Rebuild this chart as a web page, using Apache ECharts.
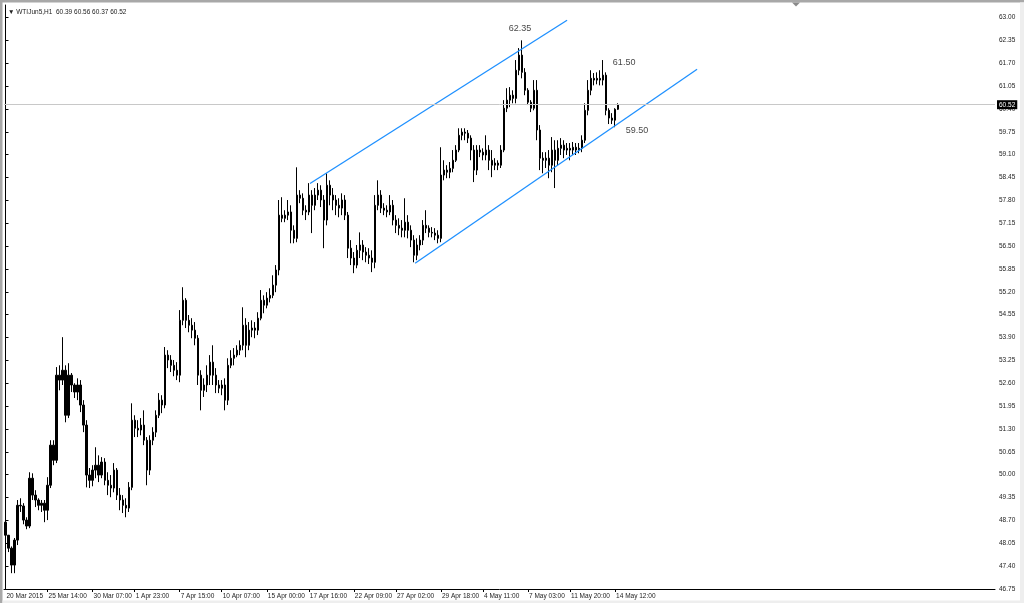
<!DOCTYPE html>
<html>
<head>
<meta charset="utf-8">
<script src="https://cdn.jsdelivr.net/npm/echarts@6/dist/echarts.min.js"></script>
<style>
html,body{margin:0;padding:0;background:#fff;}
#c{width:1024px;height:603px;}
</style>
</head>
<body>
<div id="c"></div>
<script>
// ---- data (H1 candles, each slot ~3 hours) ----
const symbolName = 'WTIJun5,H1';
const O = [48.65,48.28,47.91,47.43,48.14,49.13,49.11,48.71,48.54,49.90,
 49.42,49.28,49.13,49.19,48.99,49.70,50.84,50.41,52.83,52.69,
 52.97,51.69,52.83,52.55,52.35,52.55,51.98,51.41,49.99,49.84,
 50.13,50.27,49.99,50.36,49.84,49.70,49.62,50.13,49.42,49.28,
 49.13,49.05,49.64,51.55,51.32,51.27,51.41,50.98,50.13,50.98,
 51.21,51.69,52.12,51.98,53.40,53.26,53.11,52.97,52.83,54.39,
 54.96,54.39,54.25,54.11,53.88,52.83,52.40,52.55,52.83,53.20,
 52.83,52.55,52.46,52.55,52.12,53.11,53.31,53.40,53.54,53.68,
 54.25,53.68,54.11,54.17,54.11,54.45,54.96,54.82,55.02,55.10,
 55.39,55.82,57.38,57.29,57.38,57.47,56.95,56.72,57.95,57.86,
 57.52,57.47,57.95,57.66,57.95,58.09,57.81,57.24,58.23,57.95,
 57.81,57.66,57.58,57.81,57.38,56.44,56.16,55.96,56.38,56.53,
 56.33,56.24,56.16,56.04,57.66,57.95,57.58,57.52,57.47,57.66,
 57.24,57.09,57.01,56.95,57.18,56.95,56.67,56.24,56.53,56.67,
 57.09,57.01,56.89,56.87,56.81,56.72,58.52,58.66,58.60,58.71,
 58.94,59.23,59.65,59.74,59.71,59.57,59.23,58.66,59.23,59.17,
 59.09,59.23,58.94,58.80,58.86,58.80,59.23,60.42,60.65,60.79,
 60.70,61.50,61.93,61.44,60.93,60.59,60.42,60.93,59.80,59.00,
 58.94,59.00,58.80,59.23,58.94,59.28,59.37,59.23,59.28,59.23,
 59.31,59.23,59.28,59.51,60.36,60.93,61.27,61.22,61.27,61.22,
 61.36,60.36,60.14,60.08,60.39];
const H = [48.71,48.20,47.96,48.20,49.28,49.33,49.19,48.79,50.07,50.04,
 49.56,49.33,49.28,49.28,49.93,50.98,50.98,53.06,53.11,53.91,
 53.11,53.17,52.89,52.60,52.74,52.69,52.12,51.55,50.19,50.27,
 50.78,50.55,50.50,50.47,50.07,49.99,50.33,50.19,49.62,49.42,
 49.33,49.79,52.03,51.69,51.55,51.61,51.83,51.07,51.12,51.35,
 51.83,52.32,52.26,53.63,53.54,53.40,53.26,53.20,54.68,55.33,
 55.02,54.54,54.45,54.34,53.97,52.97,52.74,53.11,53.40,53.68,
 53.03,52.69,52.69,52.74,53.31,53.54,53.60,53.68,53.82,54.76,
 54.45,54.34,54.39,54.34,54.62,55.25,55.10,55.19,55.30,55.67,
 55.96,57.81,57.89,57.52,57.81,57.66,57.09,58.74,58.09,58.00,
 57.66,58.29,58.09,58.15,58.29,58.23,57.95,58.57,58.37,58.15,
 57.95,57.86,58.00,57.95,57.47,56.67,56.33,56.53,56.89,56.67,
 56.47,56.44,56.38,57.95,58.37,58.09,57.72,57.66,57.95,57.81,
 57.38,57.29,57.24,57.86,57.38,57.09,56.81,56.72,56.81,57.24,
 57.52,57.09,57.04,57.01,56.95,59.31,58.94,58.80,58.89,59.23,
 59.37,59.85,59.85,59.85,59.80,59.65,59.37,59.37,59.37,59.28,
 59.65,59.37,59.23,59.00,58.94,59.37,60.65,60.99,61.02,60.93,
 61.79,62.13,62.35,61.56,60.99,60.65,61.22,61.22,59.94,59.17,
 59.17,59.23,59.60,59.51,59.51,59.57,59.51,59.43,59.43,59.46,
 59.43,59.43,59.65,60.56,61.22,61.50,61.42,61.44,61.50,61.79,
 61.44,60.42,60.28,60.42,60.56];
const L = [48.28,47.80,47.20,47.20,48.00,48.94,48.59,48.45,48.48,49.28,
 49.08,48.99,48.94,48.65,48.71,49.62,50.27,50.33,52.40,52.55,
 51.49,51.61,52.35,52.18,52.12,51.78,51.21,49.64,49.62,49.67,
 49.90,49.79,49.90,49.70,49.42,49.36,49.50,49.28,48.99,48.91,
 48.79,48.94,49.56,51.07,51.07,51.12,50.84,49.70,49.99,50.84,
 51.07,51.61,51.75,51.89,53.03,52.92,52.80,52.69,52.63,54.25,
 54.17,54.05,53.88,53.68,52.55,51.83,52.21,52.35,52.55,52.55,
 52.32,52.32,52.26,51.83,51.98,53.03,53.11,53.34,53.40,53.54,
 53.34,53.54,53.91,53.88,53.97,54.39,54.59,54.73,54.90,55.02,
 55.19,55.67,57.18,57.18,57.24,56.58,56.58,56.61,57.72,57.38,
 57.24,57.38,56.87,57.52,57.81,57.61,56.44,57.09,57.66,57.52,
 57.38,57.32,57.38,57.24,56.16,55.96,55.73,55.87,56.16,56.10,
 56.04,55.99,55.76,55.87,57.52,57.44,57.38,57.32,57.38,57.09,
 56.87,56.81,56.75,56.75,56.72,56.47,56.04,56.10,56.38,56.53,
 56.87,56.75,56.75,56.67,56.58,56.61,58.37,58.43,58.43,58.60,
 58.89,59.17,59.51,59.51,59.43,58.94,58.32,58.52,59.03,58.94,
 58.94,58.66,58.46,58.66,58.66,58.72,59.17,60.31,60.45,60.56,
 60.56,61.36,61.27,60.79,60.51,60.31,60.36,59.51,58.66,58.57,
 58.72,58.43,58.60,58.15,58.80,59.09,59.00,59.09,58.94,59.09,
 59.09,59.14,59.17,59.43,60.22,60.79,61.07,61.10,61.07,61.07,
 60.22,59.97,59.97,59.88,60.37];
const C = [48.28,47.91,47.43,48.14,49.13,49.11,48.71,48.54,49.90,49.42,
 49.28,49.13,49.19,48.99,49.70,50.84,50.41,52.83,52.69,52.97,
 51.69,52.83,52.55,52.35,52.55,51.98,51.41,49.99,49.84,50.13,
 50.27,49.99,50.36,49.84,49.70,49.62,50.13,49.42,49.28,49.13,
 49.05,49.64,51.55,51.32,51.27,51.41,50.98,50.13,50.98,51.21,
 51.69,52.12,51.98,53.40,53.26,53.11,52.97,52.83,54.39,54.96,
 54.39,54.25,54.11,53.88,52.83,52.40,52.55,52.83,53.20,52.83,
 52.55,52.46,52.55,52.12,53.11,53.31,53.40,53.54,53.68,54.25,
 53.68,54.11,54.17,54.11,54.45,54.96,54.82,55.02,55.10,55.39,
 55.82,57.38,57.29,57.38,57.47,56.95,56.72,57.95,57.86,57.52,
 57.47,57.95,57.66,57.95,58.09,57.81,57.24,58.23,57.95,57.81,
 57.66,57.58,57.81,57.38,56.44,56.16,55.96,56.38,56.53,56.33,
 56.24,56.16,56.04,57.66,57.95,57.58,57.52,57.47,57.66,57.24,
 57.09,57.01,56.95,57.18,56.95,56.67,56.24,56.53,56.67,57.09,
 57.01,56.89,56.87,56.81,56.72,58.52,58.66,58.60,58.71,58.94,
 59.23,59.65,59.74,59.71,59.57,59.23,58.66,59.23,59.17,59.09,
 59.23,58.94,58.80,58.86,58.80,59.23,60.42,60.65,60.79,60.70,
 61.50,61.93,61.44,60.93,60.59,60.42,60.93,59.80,59.00,58.94,
 59.00,58.80,59.23,58.94,59.28,59.37,59.23,59.28,59.23,59.31,
 59.23,59.28,59.51,60.36,60.93,61.27,61.22,61.27,61.22,61.36,
 60.36,60.14,60.08,60.39,60.52];

const totalSlots = 330;   // chart width incl. empty right-hand shift area
const tickLabels = ['20 Mar 2015','25 Mar 14:00','30 Mar 07:00','1 Apr 23:00','7 Apr 15:00',
 '10 Apr 07:00','15 Apr 00:00','17 Apr 16:00','22 Apr 09:00','27 Apr 02:00',
 '29 Apr 18:00','4 May 11:00','7 May 03:00','11 May 20:00','14 May 12:00'];
const tickBars = [0,14,29,43,58,72,87,101,116,130,145,159,174,188,203];

const yMin = 46.75, yMax = 63.355, yStep = 0.65;

// channel lines: [bar index, price]
const upperChannel = [[101.4, 58.28],[187.0, 62.92]];
const lowerChannel = [[136.4, 56.01],[230.3, 61.53]];

// annotations
const annText  = ['62.35','61.50','59.50'];
const annBar   = [171.3, 206.0, 210.3];
const annPrice = [62.69, 61.71, 59.80];

// ---- build ----
const categories = [];
for (let i = 0; i < totalSlots; i++) categories.push('');
tickBars.forEach((b, k) => { categories[b] = tickLabels[k]; });
const tickSet = new Set(tickBars);

const candles = O.map((o, i) => [o, C[i], L[i], H[i]]);
const last = O.length - 1;
const lastClose = C[last];

const FONT = 'Liberation Sans';
const chart = echarts.init(document.getElementById('c'), null, {renderer: 'canvas'});
chart.setOption({
  animation: false,
  backgroundColor: '#fff',
  title: {
    text: '\u25BC ' + symbolName + '  ' + [O[last], H[last], L[last], C[last]].map(v => v.toFixed(2)).join(' '),
    left: 3, top: 4,
    textStyle: {fontSize: 6.5, fontWeight: 'normal', color: '#222', fontFamily: FONT}
  },
  graphic: [
    {type: 'rect', shape: {x: 0, y: 0, width: 1024, height: 2.5}, style: {fill: '#a8a8a8'}, silent: true},
    {type: 'rect', shape: {x: 0, y: 0, width: 2.5, height: 603}, style: {fill: '#a8a8a8'}, silent: true},
    {type: 'rect', shape: {x: 1020, y: 2.5, width: 4, height: 600}, style: {fill: '#eeeeee'}, silent: true},
    {type: 'rect', shape: {x: 2.5, y: 600.5, width: 1022, height: 3}, style: {fill: '#eeeeee'}, silent: true},
    {type: 'polygon', shape: {points: [[792, 2.5], [800, 2.5], [796, 6.5]]}, style: {fill: '#8a8a8a'}, silent: true}
  ],
  grid: {left: 4, right: 29, top: 5, bottom: 14, containLabel: false},
  xAxis: [{
    type: 'category',
    data: categories,
    boundaryGap: true,
    axisLine: {show: true, lineStyle: {color: '#000', width: 1}},
    axisTick: {show: true, alignWithLabel: true, length: 3, interval: (i) => tickSet.has(i) && i > 0, lineStyle: {color: '#000'}},
    axisLabel: {interval: (i) => tickSet.has(i), align: 'left', fontSize: 6.5, color: '#222', margin: 4, fontFamily: FONT, padding: [0, 0, 0, 1]},
    splitLine: {show: false}
  }, {
    type: 'value', min: -0.5, max: totalSlots - 0.5, show: false
  }],
  yAxis: [{
    type: 'value',
    position: 'right',
    min: yMin, max: yMax, interval: yStep,
    axisLine: {show: true, lineStyle: {color: '#000', width: 1}},
    axisTick: {show: true, length: 3, lineStyle: {color: '#000'}},
    axisLabel: {
      fontSize: 6.5, color: '#222', margin: 4, fontFamily: FONT,
      showMaxLabel: false,
      formatter: (v) => {
        const k = (v - yMin) / yStep;
        return Math.abs(k - Math.round(k)) < 0.02 ? v.toFixed(2) : '';
      }
    },
    splitLine: {show: false}
  }],
  series: [{
    type: 'candlestick',
    xAxisIndex: 0, yAxisIndex: 0,
    data: candles,
    barWidth: 1.7,
    itemStyle: {color: '#000', color0: '#000', borderColor: '#000', borderColor0: '#000', borderWidth: 1},
    markLine: {
      silent: true, symbol: 'none', animation: false,
      lineStyle: {color: '#c8c8c8', type: 'solid', width: 1},
      label: {show: true, position: 'end', distance: 2, formatter: lastClose.toFixed(2),
        backgroundColor: '#000', color: '#fff', fontSize: 6.5, padding: [1, 2, 1, 2], fontFamily: FONT},
      data: [{yAxis: lastClose}]
    }
  }, {
    type: 'line', xAxisIndex: 1, yAxisIndex: 0,
    data: upperChannel, symbol: 'none', silent: true,
    lineStyle: {color: '#1E90FF', width: 1.3}
  }, {
    type: 'line', xAxisIndex: 1, yAxisIndex: 0,
    data: lowerChannel, symbol: 'none', silent: true,
    lineStyle: {color: '#1E90FF', width: 1.3}
  }, {
    type: 'scatter', xAxisIndex: 1, yAxisIndex: 0,
    symbolSize: 1, itemStyle: {color: 'rgba(255,255,255,0)'}, silent: true,
    data: annText.map((t, i) => ({name: t, value: [annBar[i], annPrice[i]]})),
    label: {show: true, position: 'inside', formatter: (p) => p.name, fontSize: 9, color: '#111', fontFamily: FONT}
  }]
});
</script>
</body>
</html>
